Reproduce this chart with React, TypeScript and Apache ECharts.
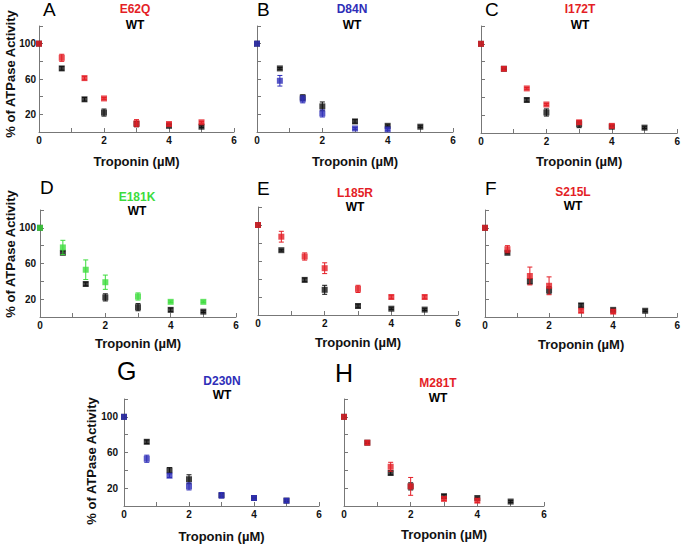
import React, { useEffect, useRef } from "react";
import * as echarts from "echarts";

const troponin = [0, 0.7, 1.4, 2, 3, 4, 5];
const yTicks = [20, 60, 100];
const xTicks = [0, 2, 4, 6];

// Panel A
const e62q = [100, 84, 61, 38, 10, 9, 11];
const e62qErr = [0, 4, 2, 1, 4, 2, 1];
const wtA = [100, 72, 37, 22, 9, 7, 6];
const wtAErr = [0, 2, 2, 4, 3, 1, 1];
// Panel B
const d84n = [100, 58, 37, 21, 4, 3];
const d84nErr = [0, 6, 4, 4, 1, 1];
const wtB = [100, 72, 39, 29, 12, 7, 6];
const wtBErr = [0, 1, 3, 5, 2, 1, 1];
// Panel C
const i172t = [100, 72, 50, 32, 12, 8];
const i172tErr = [0, 2, 1, 1, 2, 2];
const wtC = [100, 72, 37, 23, 10, 7, 6];
const wtCErr = [0, 1, 2, 4, 4, 1, 1];
// Panel D
const e181k = [100, 78, 53, 39, 23, 17, 17];
const e181kErr = [0, 8, 11, 8, 4, 1, 1];
const wtD = [100, 72, 37, 22, 11, 8, 6];
const wtDErr = [0, 2, 2, 4, 4, 2, 1];
// Panel E
const l185r = [100, 87, 65, 52, 29, 20, 20];
const l185rErr = [0, 6, 4, 6, 4, 2, 2];
const wtE = [100, 72, 39, 28, 10, 7, 6];
const wtEErr = [0, 1, 2, 5, 2, 1, 1];
// Panel F
const s215l = [100, 76, 46, 35, 7, 6];
const s215lErr = [0, 4, 10, 10, 2, 2];
const wtF = [100, 72, 40, 30, 13, 8, 7];
const wtFErr = [0, 1, 3, 4, 2, 1, 1];
// Panel G
const d230n = [100, 53, 34, 22, 12, 9, 6];
const d230nErr = [0, 4, 2, 4, 3, 2, 2];
const wtG = [100, 72, 40, 30, 12, 9, 6];
const wtGErr = [0, 2, 3, 5, 2, 1, 1];
// Panel H
const m281t = [100, 71, 44, 22, 8, 6];
const m281tErr = [0, 2, 5, 10, 2, 2];
const wtH = [100, 71, 37, 22, 11, 9, 5];
const wtHErr = [0, 1, 2, 4, 2, 1, 1];

const RED = "#e41e26";
const BLUE = "#2e2eb8";
const GREEN = "#3ddc3d";
const BLACK = "#111111";
const FONT = '"Liberation Sans", Arial, sans-serif';

const panels = [
  { letter: "A", name: "E62Q", color: RED, mut: e62q, mutErr: e62qErr, wt: wtA, wtErr: wtAErr,
    grid: { left: 39, top: 26, width: 195, height: 106 }, labels: true, lmargin: 3, nameGap: 23,
    lx: 43, ly: 0, lsize: 19, tx: 135, ty: 9, wy: 25, ytitle: { x: 10, y: 74 } },
  { letter: "B", name: "D84N", color: BLUE, mut: d84n, mutErr: d84nErr, wt: wtB, wtErr: wtBErr,
    grid: { left: 257, top: 26, width: 196, height: 106 }, labels: false, lmargin: 3, nameGap: 23,
    lx: 257, ly: 0, lsize: 19, tx: 352, ty: 9, wy: 25 },
  { letter: "C", name: "I172T", color: RED, mut: i172t, mutErr: i172tErr, wt: wtC, wtErr: wtCErr,
    grid: { left: 481, top: 26, width: 197, height: 107 }, labels: false, lmargin: 3, nameGap: 22,
    lx: 485, ly: 0, lsize: 19, tx: 580, ty: 9, wy: 25 },
  { letter: "D", name: "E181K", color: GREEN, mut: e181k, mutErr: e181kErr, wt: wtD, wtErr: wtDErr,
    grid: { left: 40, top: 210, width: 196, height: 107 }, labels: true, lmargin: 4, nameGap: 20,
    lx: 40, ly: 178, lsize: 19, tx: 137, ty: 197, wy: 211, ytitle: { x: 10, y: 254 } },
  { letter: "E", name: "L185R", color: RED, mut: l185r, mutErr: l185rErr, wt: wtE, wtErr: wtEErr,
    grid: { left: 258, top: 207, width: 200, height: 108 }, labels: false, lmargin: 3, nameGap: 21,
    lx: 257, ly: 179, lsize: 19, tx: 355, ty: 193, wy: 207 },
  { letter: "F", name: "S215L", color: RED, mut: s215l, mutErr: s215lErr, wt: wtF, wtErr: wtFErr,
    grid: { left: 485, top: 210, width: 197, height: 107 }, labels: false, lmargin: 3, nameGap: 21,
    lx: 485, ly: 179, lsize: 19, tx: 573, ty: 192, wy: 206 },
  { letter: "G", name: "D230N", color: BLUE, mut: d230n, mutErr: d230nErr, wt: wtG, wtErr: wtGErr,
    grid: { left: 124, top: 399, width: 195, height: 107 }, labels: true, lmargin: 6, nameGap: 24,
    lx: 117, ly: 358, lsize: 25, tx: 222, ty: 381, wy: 395, ytitle: { x: 91, y: 461 } },
  { letter: "H", name: "M281T", color: RED, mut: m281t, mutErr: m281tErr, wt: wtH, wtErr: wtHErr,
    grid: { left: 344, top: 399, width: 200, height: 107 }, labels: false, lmargin: 3, nameGap: 22,
    lx: 335, ly: 360, lsize: 25, tx: 438, ty: 383, wy: 398 },
];

function errRender(color: string) {
  return (params: any, api: any) => {
    const x = api.value(0);
    const lo = api.coord([x, api.value(1)]);
    const hi = api.coord([x, api.value(2)]);
    const w = 2.5;
    const style = { stroke: color, lineWidth: 1 };
    return {
      type: "group",
      children: [
        { type: "line", shape: { x1: lo[0], y1: lo[1], x2: hi[0], y2: hi[1] }, style },
        { type: "line", shape: { x1: lo[0] - w, y1: lo[1], x2: lo[0] + w, y2: lo[1] }, style },
        { type: "line", shape: { x1: hi[0] - w, y1: hi[1], x2: hi[0] + w, y2: hi[1] }, style },
      ],
    };
  };
}

export default function App() {
  const ref = useRef<HTMLDivElement>(null);
  useEffect(() => {
    if (!ref.current) return;
    const chart = echarts.init(ref.current, null, { renderer: "svg" });
    const grids: any[] = [];
    const xAxes: any[] = [];
    const yAxes: any[] = [];
    const series: any[] = [];
    const graphics: any[] = [];
    const axisLine = { show: true, lineStyle: { color: "#777", width: 1 } };
    panels.forEach((p, i) => {
      grids.push({ ...p.grid, containLabel: false });
      xAxes.push({
        type: "value", gridIndex: i, min: 0, max: 6, interval: 1,
        axisLine, axisTick: { show: true, inside: true, length: 4, lineStyle: { color: "#777" } },
        splitLine: { show: false },
        axisLabel: {
          margin: 3, color: "#111", fontWeight: "bold", fontSize: 10, fontFamily: FONT,
          formatter: (v: number) => (xTicks.includes(v) ? String(v) : ""),
        },
        name: "Troponin (µM)", nameLocation: "middle", nameGap: p.nameGap,
        nameTextStyle: { color: "#111", fontWeight: "bold", fontSize: 13, fontFamily: FONT },
      });
      yAxes.push({
        type: "value", gridIndex: i, min: 0, max: 120, interval: 20,
        axisLine, axisTick: { show: true, inside: true, length: 4, lineStyle: { color: "#777" } },
        splitLine: { show: false },
        axisLabel: {
          show: p.labels, margin: p.lmargin, color: "#111", fontWeight: "bold", fontSize: 10, fontFamily: FONT,
          formatter: (v: number) => (yTicks.includes(v) ? String(v) : ""),
        },
      });
      const wtData = p.wt.map((v, k) => [troponin[k], v]);
      const wtErr = p.wt.map((v, k) => [troponin[k], v - p.wtErr[k], v + p.wtErr[k]]).filter((_, k) => p.wtErr[k] > 0);
      const mutData = p.mut.map((v, k) => [troponin[k], v]);
      const mutErr = p.mut.map((v, k) => [troponin[k], v - p.mutErr[k], v + p.mutErr[k]]).filter((_, k) => p.mutErr[k] > 0);
      series.push({
        type: "custom", xAxisIndex: i, yAxisIndex: i, renderItem: errRender(BLACK),
        data: wtErr, encode: { x: 0, y: [1, 2] }, z: 2, silent: true,
      });
      series.push({
        type: "scatter", xAxisIndex: i, yAxisIndex: i, symbol: "rect", symbolSize: 6,
        itemStyle: { color: BLACK }, data: wtData, z: 3,
      });
      series.push({
        type: "custom", xAxisIndex: i, yAxisIndex: i, renderItem: errRender(p.color),
        data: mutErr, encode: { x: 0, y: [1, 2] }, z: 4, silent: true,
      });
      series.push({
        type: "scatter", xAxisIndex: i, yAxisIndex: i, symbol: "rect", symbolSize: 6,
        itemStyle: { color: p.color }, data: mutData, z: 5,
      });
      graphics.push({
        type: "text", x: p.lx, y: p.ly,
        style: { text: p.letter, fill: "#000", font: `${p.lsize}px ${FONT}`, align: "left", verticalAlign: "top" },
      });
      graphics.push({
        type: "text", x: p.tx, y: p.ty,
        style: { text: p.name, fill: p.color, font: `bold 12px ${FONT}`, align: "center", verticalAlign: "middle" },
      });
      graphics.push({
        type: "text", x: p.tx, y: p.wy,
        style: { text: "WT", fill: "#000", font: `bold 12px ${FONT}`, align: "center", verticalAlign: "middle" },
      });
      if (p.ytitle) {
        graphics.push({
          type: "text", x: p.ytitle.x, y: p.ytitle.y, rotation: Math.PI / 2,
          style: { text: "% of ATPase Activity", fill: "#111", font: `bold 13px ${FONT}`, align: "center", verticalAlign: "middle" },
        });
      }
    });
    chart.setOption({
      animation: false,
      backgroundColor: "#ffffff",
      grid: grids,
      xAxis: xAxes,
      yAxis: yAxes,
      series,
      graphic: graphics,
    });
    return () => chart.dispose();
  }, []);
  return <div ref={ref} style={{ position: "absolute", left: 0, top: 0, width: 683, height: 544 }} />;
}
